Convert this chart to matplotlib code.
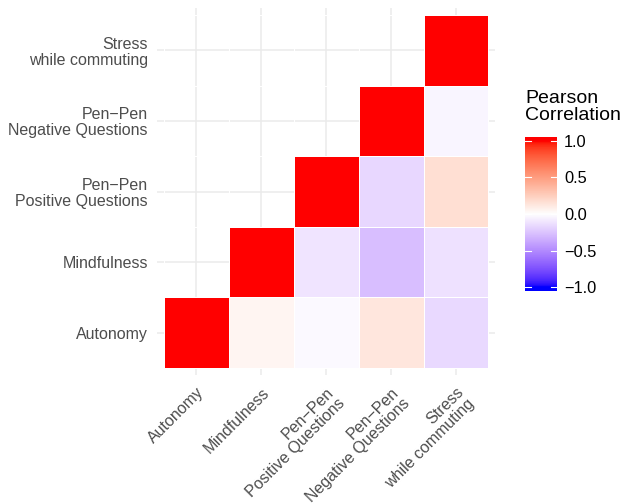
"""
Pearson correlation heatmap (upper triangle) for the commuting survey scales
"""

import matplotlib.pyplot as plt
import numpy as np
from matplotlib.colors import ListedColormap, Normalize

plt.rcParams['font.family'] = ['Liberation Sans', 'DejaVu Sans']

variables = ['Autonomy', 'Mindfulness', 'Pen\u2212Pen\nPositive Questions',
             'Pen\u2212Pen\nNegative Questions', 'Stress\nwhile commuting']

# correlation matrix, only the upper triangle is drawn
corr = np.array([
    [1.00, 0.05, -0.03, 0.13, -0.16],
    [0.05, 1.00, -0.11, -0.28, -0.13],
    [-0.03, -0.11, 1.00, -0.17, 0.17],
    [0.13, -0.28, -0.17, 1.00, -0.04],
    [-0.16, -0.13, 0.17, -0.04, 1.00],
])

cbar_ticks = [1.0, 0.5, 0.0, -0.5, -1.0]


# blue - white - red gradient interpolated in CIE Lab space
def srgb_to_lab(rgb):
    c = np.asarray(rgb, dtype=float)
    c = np.where(c <= 0.04045, c / 12.92, ((c + 0.055) / 1.055) ** 2.4)
    m = np.array([[0.4124, 0.3576, 0.1805],
                  [0.2126, 0.7152, 0.0722],
                  [0.0193, 0.1192, 0.9505]])
    xyz = m @ c / np.array([0.95047, 1.0, 1.08883])
    f = np.where(xyz > (6 / 29) ** 3, np.cbrt(xyz), xyz / (3 * (6 / 29) ** 2) + 4 / 29)
    return np.array([116 * f[1] - 16, 500 * (f[0] - f[1]), 200 * (f[1] - f[2])])


def lab_to_srgb(lab):
    L, a, b = lab
    fy = (L + 16) / 116
    f = np.array([fy + a / 500, fy, fy - b / 200])
    xyz = np.where(f > 6 / 29, f ** 3, 3 * (6 / 29) ** 2 * (f - 4 / 29))
    xyz = xyz * np.array([0.95047, 1.0, 1.08883])
    m = np.array([[3.2406, -1.5372, -0.4986],
                  [-0.9689, 1.8758, 0.0415],
                  [0.0557, -0.2040, 1.0570]])
    c = np.clip(m @ xyz, 0, 1)
    c = np.where(c <= 0.0031308, 12.92 * c, 1.055 * c ** (1 / 2.4) - 0.055)
    return np.clip(c, 0, 1)


low, mid, high = srgb_to_lab([0, 0, 1]), srgb_to_lab([1, 1, 1]), srgb_to_lab([1, 0, 0])
colors = []
for t in np.linspace(-1, 1, 256):
    end = high if t > 0 else low
    colors.append(lab_to_srgb(mid + abs(t) * (end - mid)))
cmap = ListedColormap(colors)
norm = Normalize(-1, 1)

n = len(variables)
xx, yy = np.meshgrid(np.arange(n), np.arange(n))
shown = np.ma.masked_where(xx < yy, corr)

fig = plt.figure(figsize=(6.23, 5.04), dpi=100)
ax = fig.add_axes([0.2528, 0.256, 0.5417, 0.728])

edges = np.arange(n + 1) - 0.5
ax.pcolormesh(edges, edges, shown, cmap=cmap, norm=norm,
              edgecolors='white', linewidth=0.6, zorder=2)

ax.set_xlim(-0.6, n - 0.4)
ax.set_ylim(-0.6, n - 0.4)
ax.set_xticks(range(n))
ax.set_yticks(range(n))
ax.grid(True, color='#EBEBEB', linewidth=1.1, zorder=0)
ax.set_axisbelow(True)
for s in ax.spines.values():
    s.set_visible(False)
ax.tick_params(length=0, colors='#4D4D4D', labelsize=11.5)
ax.tick_params(axis='y', pad=7)
ax.tick_params(axis='x', pad=7)
ax.set_yticklabels(variables, ha='right', multialignment='right', linespacing=1.08)
ax.set_xticklabels(variables, rotation=45, ha='right', va='top',
                   rotation_mode='anchor', multialignment='right',
                   linespacing=1.05)

# colour bar legend
cax = fig.add_axes([525 / 623, 1 - 291 / 504, 32 / 623, 154 / 504])
grad = np.linspace(-1.05, 1.05, 200).reshape(-1, 1)
cax.imshow(grad, cmap=cmap, norm=norm, aspect='auto', origin='lower',
           extent=(0, 1, -1.05, 1.05))
cax.set_xlim(0, 1)
cax.set_ylim(-1.05, 1.05)
cax.set_xticks([])
for v in cbar_ticks:
    cax.plot([0, 0.2], [v, v], color='white', lw=0.8)
    cax.plot([0.8, 1], [v, v], color='white', lw=0.8)
cax.yaxis.tick_right()
cax.set_yticks(cbar_ticks)
cax.set_yticklabels([f'{v:.1f}'.replace('-', '\u2212') for v in cbar_ticks])
cax.tick_params(length=0, labelsize=11.8, pad=5, colors='black')
for s in cax.spines.values():
    s.set_visible(False)
fig.text(525 / 623, 1 - 90 / 504, 'Pearson\nCorrelation', fontsize=14,
         ha='left', va='top', linespacing=1.0)

fig.savefig('out.png', dpi=100)
